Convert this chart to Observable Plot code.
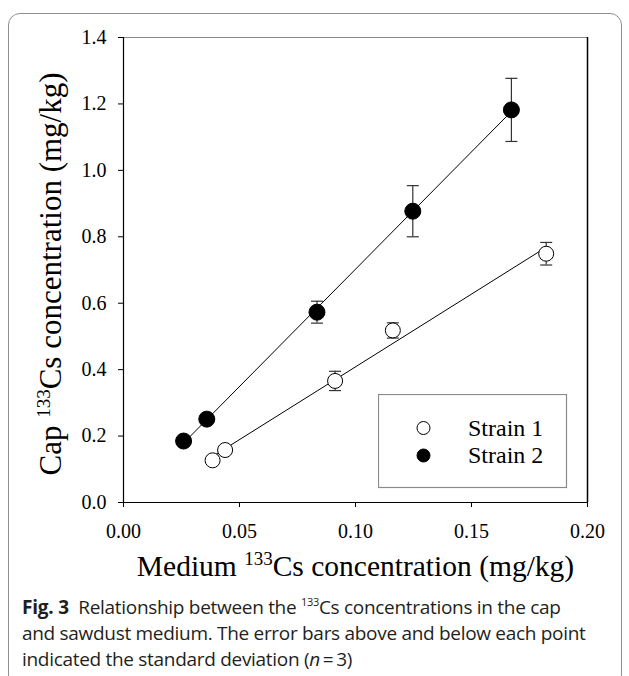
<!DOCTYPE html>
<html>
<head>
<meta charset="utf-8">
<script src="https://cdn.jsdelivr.net/npm/d3@7"></script>
<script src="https://cdn.jsdelivr.net/npm/@observablehq/plot@0.6"></script>
<style>
  html, body { margin: 0; padding: 0; background: #fff; }
  body { width: 629px; height: 676px; overflow: hidden; position: relative; }
  #card { position: absolute; left: 8px; top: 13px; width: 614px; height: 674px;
          border: 1px solid #8f8f8f; border-radius: 12px; box-sizing: border-box; }
  #chart { position: absolute; left: 0; top: 0; }
  #legend { position: absolute; left: 378px; top: 394px; }
  #caption { position: absolute; left: 22px; top: 594px; font-family: "Open Sans", sans-serif;
             font-size: 19px; line-height: 26px; color: #231f20; letter-spacing: -0.3px; white-space: nowrap; }
  #caption b { font-weight: 700; letter-spacing: -0.2px; }
  #caption sup { font-size: 11px; vertical-align: 8px; line-height: 0; letter-spacing: -0.3px; }
</style>
</head>
<body>
<div id="card"></div>
<div id="chart"></div>
<div id="legend"></div>
<div id="caption"><b>Fig. 3</b>&nbsp; Relationship between the <sup>133</sup>Cs concentrations in the cap<br>and sawdust medium. The error bars above and below each point<br>indicated the standard deviation (<i>n</i>&thinsp;=&thinsp;3)</div>
<script>
// ---- data ----
const seriesNames = ["Strain 1", "Strain 2"];
const strain1X  = [0.0384, 0.0438, 0.0912, 0.1161, 0.1822];
const strain1Y  = [0.127, 0.158, 0.366, 0.518, 0.749];
const strain1SD = [0.008, 0.009, 0.029, 0.023, 0.034];
const strain2X  = [0.0259, 0.0359, 0.0834, 0.1247, 0.1672];
const strain2Y  = [0.185, 0.251, 0.573, 0.877, 1.182];
const strain2SD = [0.010, 0.012, 0.033, 0.077, 0.095];
const xTicks = [0, 0.05, 0.10, 0.15, 0.20];
const yTicks = [0, 0.2, 0.4, 0.6, 0.8, 1.0, 1.2, 1.4];
// axis titles: [before, superscript, after]
const xLabelParts = ["Medium ", "133", "Cs concentration (mg/kg)"];
const yLabelParts = ["Cap ", "133", "Cs concentration (mg/kg)"];

const rows = [
  ...strain1X.map((x, i) => ({strain: seriesNames[0], x, y: strain1Y[i], sd: strain1SD[i]})),
  ...strain2X.map((x, i) => ({strain: seriesNames[1], x, y: strain2Y[i], sd: strain2SD[i]}))
];
const s1 = rows.filter(d => d.strain === seriesNames[0]);
const s2 = rows.filter(d => d.strain === seriesNames[1]);

// horizontal cap symbol for the error bars
const capSymbol = {
  draw(context, size) {
    const r = Math.sqrt(size / Math.PI);
    context.moveTo(-r, 0);
    context.lineTo(r, 0);
  }
};

const serif = "'Liberation Serif', 'Times New Roman', serif";
const xLabel = xLabelParts.join("");
const yLabel = yLabelParts.join("");

const chart = Plot.plot({
  width: 629,
  height: 590,
  marginLeft: 123,
  marginRight: 42,
  marginTop: 37,
  marginBottom: 88,
  style: {fontFamily: serif, fontSize: "20px", color: "#000", background: "transparent", overflow: "visible"},
  x: {domain: [xTicks[0], xTicks[xTicks.length - 1]]},
  y: {domain: [yTicks[0], yTicks[yTicks.length - 1]]},
  marks: [
    // frame
    Plot.ruleY([yTicks[yTicks.length - 1]], {stroke: "#8a8a8a", strokeWidth: 1.2}),
    Plot.ruleX([xTicks[xTicks.length - 1]], {stroke: "#000", strokeWidth: 1.5}),
    Plot.ruleY([yTicks[0]], {stroke: "#000", strokeWidth: 1.2}),
    Plot.ruleX([xTicks[0]], {stroke: "#000", strokeWidth: 1.2}),
    // axes
    Plot.axisX(xTicks, {tickFormat: d => d.toFixed(2), tickSize: 5, tickPadding: 16, fontSize: 20, label: null, stroke: "#000"}),
    Plot.axisY(yTicks, {tickFormat: d => d.toFixed(1), tickSize: 5, tickPadding: 12, fontSize: 20, label: null, stroke: "#000"}),
    // axis titles
    Plot.text([xLabel], {frameAnchor: "bottom", textAnchor: "middle", lineAnchor: "middle", dy: 64, fontSize: 29.5, fill: "#000"}),
    Plot.text([yLabel], {frameAnchor: "left", textAnchor: "middle", lineAnchor: "middle", rotate: -90, dx: -72, dy: 4, fontSize: 31, fill: "#000"}),
    // regression lines
    Plot.linearRegressionY(s1, {x: "x", y: "y", ci: 0, stroke: "#000", strokeWidth: 1}),
    Plot.linearRegressionY(s2, {x: "x", y: "y", ci: 0, stroke: "#000", strokeWidth: 1}),
    // error bars
    Plot.ruleX(rows, {x: "x", y1: d => d.y - d.sd, y2: d => d.y + d.sd, stroke: "#333", strokeWidth: 1.2}),
    Plot.dot(rows, {x: "x", y: d => d.y + d.sd, symbol: capSymbol, r: 6, stroke: "#333", strokeWidth: 1.2, fill: "none"}),
    Plot.dot(rows, {x: "x", y: d => d.y - d.sd, symbol: capSymbol, r: 6, stroke: "#333", strokeWidth: 1.2, fill: "none"}),
    // points
    Plot.dot(s1, {x: "x", y: "y", r: 7.5, fill: "#fff", stroke: "#000", strokeWidth: 1}),
    Plot.dot(s2, {x: "x", y: "y", r: 8, fill: "#000", stroke: "#000", strokeWidth: 1})
  ]
});
document.getElementById("chart").appendChild(chart);

// turn the "133" of the axis titles into a real superscript
d3.select(chart).selectAll("text").each(function() {
  const t = this.textContent;
  const parts = t === xLabel ? xLabelParts : t === yLabel ? yLabelParts : null;
  if (!parts) return;
  const sel = d3.select(this);
  sel.text(null);
  sel.append("tspan").text(parts[0]);
  sel.append("tspan").attr("font-size", 19).attr("dy", -11).text(parts[1]);
  sel.append("tspan").attr("dy", 11).text(parts[2]);
});

// legend box (custom, as in the reference)
const lg = d3.select("#legend").append("svg")
  .attr("width", 190).attr("height", 96)
  .style("font-family", serif);
lg.append("rect").attr("x", 0.5).attr("y", 0.5).attr("width", 188).attr("height", 93)
  .attr("fill", "#fff").attr("stroke", "#8a8a8a").attr("stroke-width", 1.2);
seriesNames.forEach((name, i) => {
  const cy = 34 + i * 27.5;
  lg.append("circle").attr("cx", 45.5).attr("cy", cy).attr("r", 6.5)
    .attr("fill", i === 0 ? "#fff" : "#000").attr("stroke", "#000").attr("stroke-width", 1);
  lg.append("text").attr("x", 90).attr("y", cy + 7.5).attr("font-size", 24).attr("fill", "#000").text(name);
});
</script>
</body>
</html>
